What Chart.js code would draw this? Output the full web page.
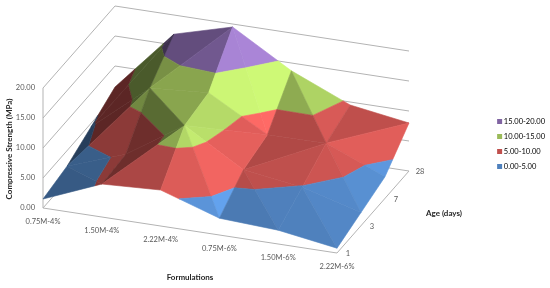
<!DOCTYPE html>
<html>
<head>
<meta charset="utf-8">
<style>
html, body { margin: 0; padding: 0; background: #fff; }
#wrap { width: 550px; height: 288px; }
</style>
<script src="https://cdn.jsdelivr.net/npm/chart.js@4"></script>
</head>
<body>
<div id="wrap"><canvas id="myChart" width="550" height="288"></canvas></div>
<script>
// chart values
const formulations = ['0.75M-4%', '1.50M-4%', '2.22M-4%', '0.75M-6%', '1.50M-6%', '2.22M-6%'];
const ages = ['1', '3', '7', '28'];
const strengthTicks = [0, 5, 10, 15, 20];
const age1 = [1.5, 5.5, 6.0, 2.8, 2.3, 0.8];
const age3 = [2.4, 5.9, 12.2, 6.3, 4.9, 2.2];
const age7 = [4.4, 12.4, 13.1, 7.6, 7.7, 3.6];
const age28 = [6.5, 16.8, 19.5, 13.7, 9.5, 8.0];
const bandNames = ['15.00-20.00', '10.00-15.00', '5.00-10.00', '0.00-5.00'];
const bandColors = ['#8064A2', '#9BBB59', '#C0504D', '#4F81BD'];

const rows = [age1, age3, age7, age28];

// fake 3D view: parallel projection of (formulation, age, strength)
const origin = [43, 208];
const stepF = [58.8, 9];
const stepA = [24, -27.33];
const stepZ = -6;
const frameColor = '#b3b3b3';

function project(f, a, z) {
    return {
        x: origin[0] + stepF[0] * f + stepA[0] * a,
        y: origin[1] + stepF[1] * f + stepA[1] * a + stepZ * z
    };
}

// cut a polygon to the part above/below a level
function clipZ(poly, level, keepAbove) {
    const out = [];
    for (let i = 0; i < poly.length; i++) {
        const p = poly[i];
        const q = poly[(i + 1) % poly.length];
        const pIn = keepAbove ? p[2] >= level : p[2] <= level;
        const qIn = keepAbove ? q[2] >= level : q[2] <= level;
        if (pIn) out.push(p);
        if (pIn !== qIn) {
            const t = (level - p[2]) / (q[2] - p[2]);
            out.push([p[0] + (q[0] - p[0]) * t, p[1] + (q[1] - p[1]) * t, level]);
        }
    }
    return out;
}

function shade(hex, f) {
    const n = parseInt(hex.slice(1), 16);
    const c = [n >> 16, (n >> 8) & 255, n & 255].map(v => Math.min(255, Math.round(v * f)));
    return `rgb(${c[0]},${c[1]},${c[2]})`;
}

// brightness of a facet from its slopes, fitted by eye against the reference
function facetLight(t) {
    const u = [t[1][0] - t[0][0], t[1][1] - t[0][1], t[1][2] - t[0][2]];
    const v = [t[2][0] - t[0][0], t[2][1] - t[0][1], t[2][2] - t[0][2]];
    const det = u[0] * v[1] - u[1] * v[0];
    const slopeF = (u[2] * v[1] - u[1] * v[2]) / det;
    const slopeA = (u[0] * v[2] - u[2] * v[0]) / det;
    if (slopeF < 0) {
        return 0.92 - 0.04 * slopeF - 0.005 * slopeF * Math.max(slopeA, 0);
    }
    return Math.max(0.48, 0.92 - 0.055 * slopeF);
}

// every cell splits into two triangles along its higher diagonal
function buildFacets() {
    const tris = [];
    for (let a = 0; a < rows.length - 1; a++) {
        for (let f = 0; f < formulations.length - 1; f++) {
            const p00 = [f, a, rows[a][f]];
            const p10 = [f + 1, a, rows[a][f + 1]];
            const p11 = [f + 1, a + 1, rows[a + 1][f + 1]];
            const p01 = [f, a + 1, rows[a + 1][f]];
            if (p10[2] + p01[2] >= p00[2] + p11[2]) {
                tris.push([p00, p10, p01], [p10, p11, p01]);
            } else {
                tris.push([p00, p10, p11], [p00, p11, p01]);
            }
        }
    }
    // back to front
    tris.sort((s, t) => depth(s) - depth(t));
    const sets = [];
    tris.forEach(t => {
        const light = facetLight(t);
        bandColors.forEach((col, b) => {
            const lo = 15 - b * 5;
            let poly = clipZ(t, lo, true);
            if (poly.length) poly = clipZ(poly, lo + 5, false);
            if (poly.length < 3) return;
            const c = shade(col, light);
            const pts = poly.map(p => project(p[0], p[1], p[2]));
            pts.push(pts[0]);
            sets.push({
                data: pts,
                showLine: true,
                pointRadius: 0,
                borderWidth: 0.6,
                borderColor: c,
                backgroundColor: c,
                fill: 'shape',
                tension: 0,
                clip: false
            });
        });
    });
    return sets;
}

function depth(t) {
    return (t[0][0] + t[1][0] + t[2][0]) * stepF[1] + (t[0][1] + t[1][1] + t[2][1]) * stepA[1];
}

function frameLine(from, to) {
    return {
        data: [project(from[0], from[1], from[2]), project(to[0], to[1], to[2])],
        showLine: true,
        pointRadius: 0,
        borderWidth: 1,
        borderColor: frameColor,
        fill: false,
        clip: false
    };
}

function buildFrame() {
    const lastF = formulations.length - 1;
    const lastA = ages.length - 1;
    const top = strengthTicks[strengthTicks.length - 1];
    const sets = [
        frameLine([0, 0, 0], [lastF, 0, 0]),
        frameLine([lastF, 0, 0], [lastF, lastA, 0]),
        frameLine([0, 0, 0], [0, 0, top])
    ];
    strengthTicks.forEach(z => {
        sets.push(frameLine([0, 0, z], [0, lastA, z]));
        sets.push(frameLine([0, lastA, z], [lastF, lastA, z]));
    });
    return sets;
}

// texts sit on the projected axis positions
const axisText = {
    id: 'axisText',
    afterDatasetsDraw(chart) {
        const ctx = chart.ctx;
        const sx = chart.scales.x;
        const sy = chart.scales.y;
        const put = (str, p, dx, dy, align) => {
            ctx.textAlign = align;
            ctx.fillText(str, sx.getPixelForValue(p.x) + dx, sy.getPixelForValue(p.y) + dy);
        };
        ctx.save();
        ctx.textBaseline = 'middle';
        ctx.fillStyle = '#595959';
        ctx.font = '7.5px Lato';
        strengthTicks.forEach(z => put(z.toFixed(2), project(0, 0, z), -8, 0, 'right'));
        formulations.forEach((s, i) => put(s, project(i, 0, 0), 0, 14, 'center'));
        ages.forEach((s, i) => put(s, project(formulations.length - 1, i, 0), 11, 1, 'center'));

        ctx.fillStyle = '#262626';
        ctx.font = 'bold 8px Lato';
        put('Formulations', { x: 190, y: 277 }, 0, 0, 'center');
        put('Age (days)', { x: 444, y: 213 }, 0, 0, 'center');
        ctx.translate(sx.getPixelForValue(9), sy.getPixelForValue(149));
        ctx.rotate(-Math.PI / 2);
        ctx.fillText('Compressive Strength (MPa)', 0, 0);
        ctx.restore();
    }
};

const ctx = document.getElementById('myChart').getContext('2d');
const myChart = new Chart(ctx, {
    type: 'scatter',
    data: {
        // first dataset ends up on top, so surface goes front to back, frame last
        datasets: buildFacets().reverse().concat(buildFrame())
    },
    options: {
        responsive: false,
        animation: false,
        layout: { padding: { right: -5 } },
        scales: {
            x: {
                type: 'linear', display: false, bounds: 'data', min: 0,
                afterDataLimits(s) { s.min = 0; s.max = s.width; }
            },
            y: {
                type: 'linear', display: false, bounds: 'data', reverse: true, min: 0,
                afterDataLimits(s) { s.min = 0; s.max = s.height; }
            }
        },
        plugins: {
            tooltip: { enabled: false },
            legend: {
                display: true,
                position: 'right',
                align: 'center',
                labels: {
                    // tiny box with a thick outline keeps the swatch close to its text
                    boxWidth: 1,
                    boxHeight: 1,
                    padding: 7.5,
                    color: '#595959',
                    font: { family: 'Lato', size: 7.5 },
                    generateLabels() {
                        return bandNames.map((name, i) => ({
                            text: name,
                            fillStyle: bandColors[i],
                            strokeStyle: bandColors[i],
                            lineWidth: 4,
                            hidden: false,
                            datasetIndex: i
                        }));
                    }
                }
            }
        }
    },
    plugins: [axisText]
});
</script>
</body>
</html>
